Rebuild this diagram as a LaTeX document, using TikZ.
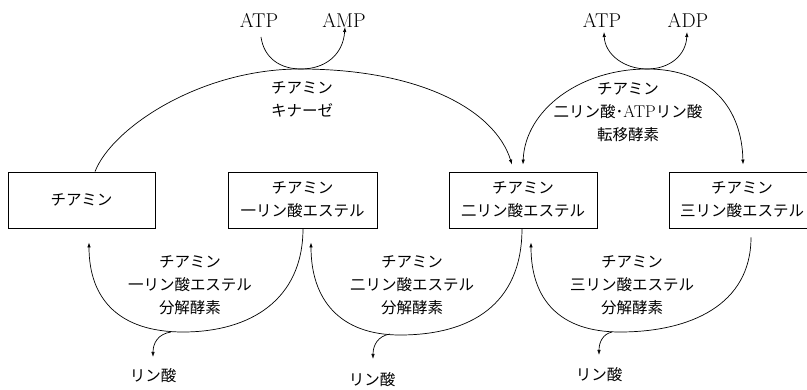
\documentclass[tikz,border=0pt]{standalone}
\usepackage{fontspec}
\newfontfamily\jp{Noto Sans CJK JP}
\newcommand\jpf{\jp\fontsize{15.5}{23}\selectfont}
\usetikzlibrary{arrows.meta,calc}
\begin{document}
\begin{tikzpicture}[x=1pt,y=-1pt,
  box/.style={draw,line width=0.8pt,minimum height=56pt,inner sep=0pt,align=center,font=\jpf},
  lbl/.style={align=center,font=\jpf,inner sep=0pt},
  chem/.style={font=\fontsize{20}{22}\selectfont,inner sep=0pt},
  conn/.style={line width=0.7pt},
  tipend/.style={-{Latex[length=5pt,width=3.5pt]}},
  tipboth/.style={{Latex[length=5pt,width=3.5pt]}-{Latex[length=5pt,width=3.5pt]}}
]
\useasboundingbox (0,0) rectangle (807,390);

% boxes
\node[box,minimum width=147pt] (b1) at (81.5,200) {チアミン};
\node[box,minimum width=149pt] (b2) at (302.5,200) {チアミン\\一リン酸エステル};
\node[box,minimum width=148pt] (b3) at (523,200) {チアミン\\二リン酸エステル};
\node[box,minimum width=146pt] (b4) at (742,200) {チアミン\\三リン酸エステル};

% top chemicals
\node[chem] (atp1) at (259,20) {ATP};
\node[chem] (amp) at (344,20) {AMP};
\node[chem] (atp2) at (602,20) {ATP};
\node[chem] (adp) at (688,20) {ADP};

% enzyme labels
\node[lbl] (kin) at (302,99) {チアミン\\キナーゼ};
\node[lbl] (trans) at (628,112) {チアミン\\二リン酸･{\rmfamily\fontsize{17}{23}\selectfont ATP}リン酸\\転移酵素};
\node[lbl] (e1) at (190,285) {チアミン\\一リン酸エステル\\分解酵素};
\node[lbl] (e2) at (412,285) {チアミン\\二リン酸エステル\\分解酵素};
\node[lbl] (e3) at (632,285) {チアミン\\三リン酸エステル\\分解酵素};

% phosphate products
\node[lbl] (p1) at (153,376) {リン酸};
\node[lbl] (p2) at (372,380) {リン酸};
\node[lbl] (p3) at (599,375) {リン酸};

% top arc: thiamine -> TDP
\draw[conn,tipend] ($(b1.north)+(13.5,0)$) .. controls (112,128) and (200,69) .. (300,69)
   .. controls (420,69) and (495,110) .. ($(b3.north)+(-11,-7)$);
% ATP -> AMP
\draw[conn,tipend] ($(atp1)+(2,17)$) .. controls (264,58) and (280,69) .. (301,69)
   .. controls (325,69) and (343,55) .. ($(amp)+(1,7)$);

% right arc: TDP <-> TTP
\draw[conn,tipboth] ($(b3.north)+(0,-7)$) .. controls (525,110) and (580,69) .. (647,69)
   .. controls (712,69) and (742,110) .. ($(b4.north)+(1,-7)$);
% ATP <-> ADP
\draw[conn,tipboth] ($(atp2)+(2,12)$) .. controls (605,55) and (625,69) .. (647,69)
   .. controls (670,69) and (686,55) .. ($(adp)+(-1,12)$);

% bottom arcs
\draw[conn,tipend] ($(b2.south)+(0.5,0)$) .. controls (303,300) and (250,332) .. (183,332)
   .. controls (120,332) and (89,300) .. ($(b1.south)+(7.5,14)$);
\draw[conn,tipend] (171,332) .. controls (158,334) and (153,343) .. ($(p1)+(0,-19)$);

\draw[conn,tipend] ($(b3.south)+(-1,0)$) .. controls (522,305) and (470,335) .. (400,335)
   .. controls (340,335) and (311,300) .. ($(b2.south)+(8.5,14)$);
\draw[conn,tipend] (390,334) .. controls (378,336) and (373,345) .. ($(p2)+(1,-21)$);

\draw[conn,tipend] ($(b4.south)+(9,9)$) .. controls (751,305) and (690,332) .. (620,332)
   .. controls (560,332) and (531,300) .. ($(b3.south)+(8,14)$);
\draw[conn,tipend] (612,332) .. controls (603,334) and (599,342) .. ($(p3)+(0,-20)$);
\end{tikzpicture}
\end{document}
